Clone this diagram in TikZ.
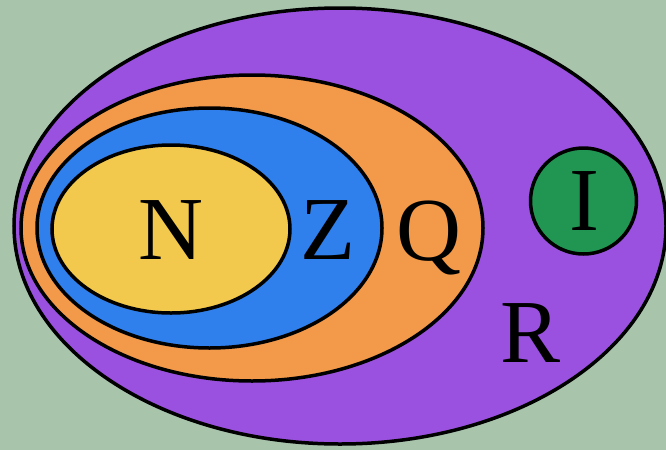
\documentclass[tikz,border=0pt]{standalone}
\usepackage{fontspec}
\newfontfamily\setfont{Liberation Serif}
\usetikzlibrary{shapes.geometric}

\definecolor{bgGreen}{HTML}{A8C5AC}
\definecolor{setR}{HTML}{9B51E0}
\definecolor{setQ}{HTML}{F2994A}
\definecolor{setZ}{HTML}{2F80ED}
\definecolor{setN}{HTML}{F2C94C}
\definecolor{setI}{HTML}{219653}

\begin{document}
\begin{tikzpicture}[
  x=1pt, y=-1pt,
  line width=3.5pt,
  set/.style={draw=black, ellipse, inner sep=0pt},
  letter/.style={font=\setfont\fontsize{90}{90}\selectfont, text=black, inner sep=0pt}
]

% background and frame
\fill[bgGreen] (0,0) rectangle (666,450);
\useasboundingbox (0,0) rectangle (666,450);

% nested sets
\node[set, fill=setR, minimum width=652pt, minimum height=436pt] (realSet) at (340,226) {};
\node[set, fill=setQ, minimum width=462pt, minimum height=306pt] (ratSet) at (252,228) {};
\node[set, fill=setZ, minimum width=345pt, minimum height=240pt] (intSet) at (209.5,228) {};
\node[set, fill=setN, minimum width=238pt, minimum height=168pt] (natSet) at (171,229) {};
\node[draw=black, circle, fill=setI, minimum size=106pt, inner sep=0pt] (irrSet) at (583.5,201) {};

% labels
\node[letter] (natLabel) at (171,230) {N};
\node[letter] (intLabel) at (328,230) {Z};
\node[letter] (ratLabel) at (429,238) {Q};
\node[letter] (irrLabel) at (584,201) {I};
\node[letter] (realLabel) at (531,333) {R};

\end{tikzpicture}
\end{document}
